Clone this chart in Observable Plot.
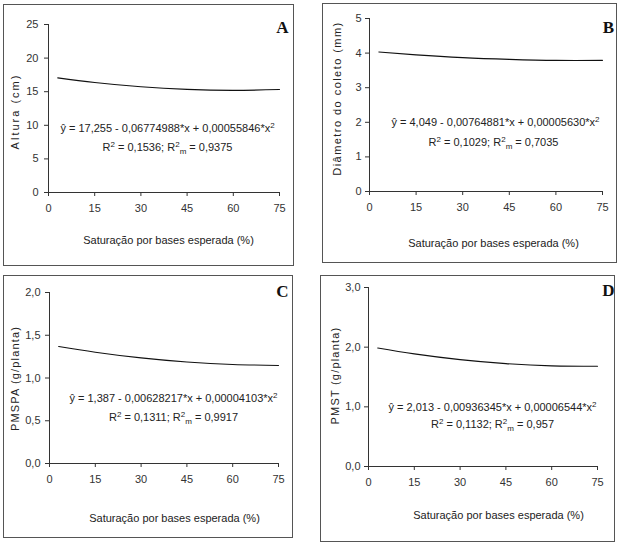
<!DOCTYPE html>
<html><head><meta charset="utf-8">
<script src="https://cdn.jsdelivr.net/npm/d3@7"></script>
<script src="https://cdn.jsdelivr.net/npm/@observablehq/plot@0.6"></script>
<style>
body{margin:0;background:#fff;}
#wrap{position:relative;width:619px;height:548px;overflow:hidden;font-family:"Liberation Sans",Arial,sans-serif;}
.panel{position:absolute;}
.box{position:absolute;border:1.5px solid #555;box-sizing:border-box;pointer-events:none;}
</style></head><body><div id="wrap"></div>
<script>
// ---- data ----
const xValues = [3, 15, 30, 45, 60, 75];
const alturaValues = [17.06, 16.37, 15.73, 15.34, 15.20, 15.32];
const diametroValues = [4.03, 3.95, 3.87, 3.82, 3.79, 3.79];
const pmspaValues = [1.369, 1.302, 1.235, 1.187, 1.158, 1.147];
const pmstValues = [1.986, 1.887, 1.791, 1.724, 1.687, 1.679];

const xTicks = [0, 15, 30, 45, 60, 75];
const alturaTicks = [0, 5, 10, 15, 20, 25];
const diametroTicks = [0, 1, 2, 3, 4, 5];
const pmspaTicks = [0, 0.5, 1, 1.5, 2];
const pmstTicks = [0, 1, 2, 3];

const panelLetters = ["A", "B", "C", "D"];
const yLabels = ["Altura (cm)", "Diâmetro do coleto (mm)", "PMSPA (g/planta)", "PMST (g/planta)"];
const xLabel = "Saturação por bases esperada (%)";
const equations = [
  "ŷ = 17,255 - 0,06774988*x + 0,00055846*x^2",
  "ŷ = 4,049 - 0,00764881*x + 0,00005630*x^2",
  "ŷ = 1,387 - 0,00628217*x + 0,00004103*x^2",
  "ŷ = 2,013 - 0,00936345*x + 0,00006544*x^2"
];
const r2Texts = [
  "R^2 = 0,1536; R^2_m = 0,9375",
  "R^2 = 0,1029; R^2_m = 0,7035",
  "R^2 = 0,1311; R^2_m = 0,9917",
  "R^2 = 0,1132; R^2_m = 0,957"
];

const intFmt = d => String(d);
const commaFmt = d => d3.format(".1f")(d).replace(".", ",");

// ---- layout ----
const panels = [
  {left:3, top:4, width:291, height:262, mL:45, mR:15, mT:20, mB:74,
   ys: alturaValues, yDomain:[0,25], yTicks: alturaTicks, fmt:intFmt, yPad:6, ls:2,
   eq:[167,128], r2:[167,147], yl:[15,111], xl:[168,240], letter:[282,27]},
  {left:322, top:3, width:295, height:260, mL:47, mR:15, mT:15, mB:72,
   ys: diametroValues, yDomain:[0,5], yTicks: diametroTicks, fmt:intFmt, yPad:4, ls:1.45,
   eq:[495,122], r2:[493,142], yl:[337,98], xl:[493,243], letter:[608,27]},
  {left:3, top:275, width:290, height:263, mL:46, mR:15, mT:17, mB:75,
   ys: pmspaValues, yDomain:[0,2], yTicks: pmspaTicks, fmt:commaFmt, yPad:5, ls:1.15,
   eq:[173,398], r2:[173,417], yl:[15,378], xl:[174,518], letter:[282,291]},
  {left:320, top:275, width:295, height:267, mL:48, mR:18, mT:12, mB:76,
   ys: pmstValues, yDomain:[0,3], yTicks: pmstTicks, fmt:commaFmt, yPad:4, ls:1.2,
   eq:[492,407], r2:[492,424], yl:[335,375], xl:[498,515], letter:[608,290]}
];

function enrich(svg, yLabel, ls){
  svg.querySelectorAll("text").forEach(el => {
    const s = el.textContent;
    if (s === yLabel) { el.setAttribute("letter-spacing", ls); return; }
    if (!/[\^_]/.test(s)) return;
    const parts = s.split(/(\^\w|_\w)/).filter(p => p);
    el.textContent = "";
    let shift = 0;
    for (const p of parts) {
      const ts = document.createElementNS("http://www.w3.org/2000/svg", "tspan");
      let target = 0, txt = p, small = false;
      if (p[0] === "^") { target = -4; txt = p.slice(1); small = true; }
      else if (p[0] === "_") { target = 3; txt = p.slice(1); small = true; }
      ts.setAttribute("dy", target - shift);
      shift = target;
      if (small) ts.setAttribute("font-size", "8");
      ts.textContent = txt;
      el.appendChild(ts);
    }
  });
}

const wrap = document.getElementById("wrap");
panels.forEach((cfg, i) => {
  const fl = cfg.left + cfg.mL, ft = cfg.top + cfg.mT;
  const t = (txt, pos, opts = {}) => Plot.text([txt], {
    frameAnchor: "top-left", dx: pos[0] - fl, dy: pos[1] - ft, text: d => d,
    lineAnchor: "middle", textAnchor: "middle", fontSize: 11, fill: "#222", ...opts
  });
  const data = xValues.map((x, k) => ({x, y: cfg.ys[k]}));
  const svg = Plot.plot({
    width: cfg.width, height: cfg.height,
    marginLeft: cfg.mL, marginRight: cfg.mR, marginTop: cfg.mT, marginBottom: cfg.mB,
    x: {domain: [0, 75], ticks: xTicks, tickFormat: intFmt, tickSize: 4, tickPadding: 8, label: null},
    y: {domain: cfg.yDomain, ticks: cfg.yTicks, tickFormat: cfg.fmt, tickSize: 4, tickPadding: cfg.yPad, label: null},
    style: {fontFamily: '"Liberation Sans", Arial, sans-serif', fontSize: "11px", color: "#333", background: "transparent", overflow: "visible"},
    marks: [
      Plot.ruleX([0], {stroke: "#333"}),
      Plot.ruleY([0], {stroke: "#333"}),
      Plot.line(data, {x: "x", y: "y", curve: "natural", stroke: "#111", strokeWidth: 1.1}),
      t(equations[i], cfg.eq),
      t(r2Texts[i], cfg.r2),
      t(xLabel, cfg.xl),
      t(yLabels[i], cfg.yl, {rotate: -90}),
      t(panelLetters[i], cfg.letter, {fontSize: 17, fontWeight: "bold", fontFamily: '"Liberation Serif", "Times New Roman", serif', fill: "#111"})
    ]
  });
  enrich(svg, yLabels[i], cfg.ls);
  const holder = document.createElement("div");
  holder.className = "panel";
  holder.style.left = cfg.left + "px";
  holder.style.top = cfg.top + "px";
  holder.appendChild(svg);
  wrap.appendChild(holder);
  const box = document.createElement("div");
  box.className = "box";
  box.style.left = cfg.left + "px";
  box.style.top = cfg.top + "px";
  box.style.width = cfg.width + "px";
  box.style.height = cfg.height + "px";
  wrap.appendChild(box);
});
</script>
</body></html>
